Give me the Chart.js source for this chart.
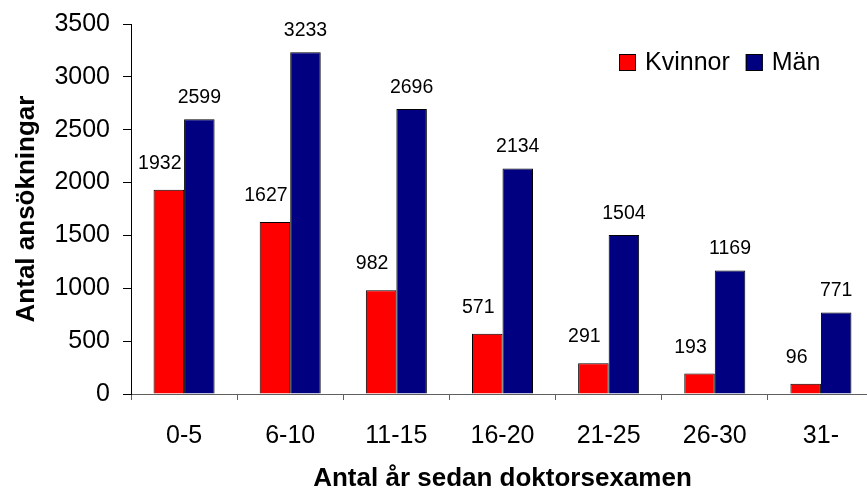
<!DOCTYPE html>
<html>
<head>
<meta charset="utf-8">
<script src="https://cdn.jsdelivr.net/npm/chart.js@4.4.1/dist/chart.umd.min.js"></script>
<style>
  html, body { margin: 0; padding: 0; overflow: hidden; background: #fff; }
  #wrap { position: absolute; left: 0; top: 0; width: 874px; height: 493px; }
</style>
</head>
<body>
<div id="wrap"><canvas id="chart" width="874" height="493"></canvas></div>
<script>
// Ansökningar per antal år sedan doktorsexamen, uppdelat på kön
const categories = ['0-5', '6-10', '11-15', '16-20', '21-25', '26-30', '31-'];
const kvinnor = [1932, 1627, 982, 571, 291, 193, 96];
const man = [2599, 3233, 2696, 2134, 1504, 1169, 771];
const seriesNames = ['Kvinnor', 'Män'];
const yMin = 0;
const yMax = 3500;
const yStep = 500;

const FONT = '"Liberation Sans", Arial, Helvetica, sans-serif';

// Value labels above each bar
const valueLabels = {
  id: 'valueLabels',
  afterDatasetsDraw(chart) {
    const ctx = chart.ctx;
    ctx.save();
    ctx.font = '19.5px ' + FONT;
    ctx.fillStyle = '#000';
    ctx.textAlign = 'center';
    ctx.textBaseline = 'alphabetic';
    chart.data.datasets.forEach((ds, i) => {
      const meta = chart.getDatasetMeta(i);
      const off = ds.labelOffset || { dx: 0, dy: 16 };
      meta.data.forEach((bar, j) => {
        ctx.fillText(String(ds.data[j]), bar.x + off.dx, bar.y - off.dy);
      });
    });
    ctx.restore();
  }
};

// Compact legend placed inside the plot area, top right
const insideLegend = {
  id: 'insideLegend',
  afterDraw(chart, args, opts) {
    const ctx = chart.ctx;
    ctx.save();
    ctx.font = opts.fontSize + 'px ' + FONT;
    ctx.textBaseline = 'middle';
    ctx.textAlign = 'left';
    let x = opts.x;
    const y = opts.y;
    const box = opts.box;
    chart.data.datasets.forEach((ds) => {
      ctx.fillStyle = ds.backgroundColor;
      ctx.fillRect(x, y, box, box);
      ctx.strokeStyle = '#000';
      ctx.lineWidth = 1;
      ctx.strokeRect(x + 0.5, y + 0.5, box - 1, box - 1);
      ctx.fillStyle = '#000';
      const tx = x + box + opts.gap;
      ctx.fillText(ds.label, tx, y + box / 2 + 1);
      x = tx + ctx.measureText(ds.label).width + opts.spacing;
    });
    ctx.restore();
  }
};

new Chart(document.getElementById('chart'), {
  type: 'bar',
  data: {
    labels: categories,
    datasets: [
      {
        label: seriesNames[0],
        data: kvinnor,
        backgroundColor: '#FF0000',
        borderColor: '#000',
        borderWidth: 1,
        labelOffset: { dx: -9, dy: 21 }
      },
      {
        label: seriesNames[1],
        data: man,
        backgroundColor: '#000080',
        borderColor: '#000',
        borderWidth: 1,
        labelOffset: { dx: 0, dy: 16 }
      }
    ]
  },
  options: {
    responsive: false,
    animation: false,
    devicePixelRatio: 1,
    layout: { padding: { top: 24, right: 0, bottom: 0, left: 0 } },
    datasets: {
      bar: { categoryPercentage: 0.575, barPercentage: 1 }
    },
    plugins: {
      legend: { display: false },
      tooltip: { enabled: false },
      insideLegend: { x: 619, y: 54, box: 17, gap: 9, spacing: 16, fontSize: 25 }
    },
    scales: {
      x: {
        afterFit(scale) { scale.height = 99; },
        grid: {
          display: true,
          drawOnChartArea: false,
          drawTicks: true,
          tickLength: 6,
          color: '#606060',
          offset: true
        },
        border: { display: true, color: '#606060', width: 1 },
        ticks: {
          color: '#000',
          padding: 21,
          font: { family: FONT, size: 25 },
          maxRotation: 0
        },
        title: {
          display: true,
          text: 'Antal år sedan doktorsexamen',
          color: '#000',
          font: { family: FONT, size: 26, weight: 'bold', lineHeight: 1 },
          padding: { top: 0, bottom: 1 }
        }
      },
      y: {
        min: yMin,
        max: yMax,
        afterFit(scale) { scale.width = 131; },
        grid: {
          display: true,
          drawOnChartArea: false,
          drawTicks: true,
          tickLength: 8,
          color: '#000'
        },
        border: { display: true, color: '#000', width: 1 },
        ticks: {
          stepSize: yStep,
          color: '#000',
          padding: 13,
          font: { family: FONT, size: 25, lineHeight: 0.6 },
          callback: (v) => String(v)
        },
        title: {
          display: true,
          text: 'Antal ansökningar',
          color: '#000',
          font: { family: FONT, size: 26, weight: 'bold', lineHeight: 1 },
          padding: { top: 14, bottom: 0 }
        }
      }
    }
  },
  plugins: [valueLabels, insideLegend]
});
</script>
</body>
</html>
